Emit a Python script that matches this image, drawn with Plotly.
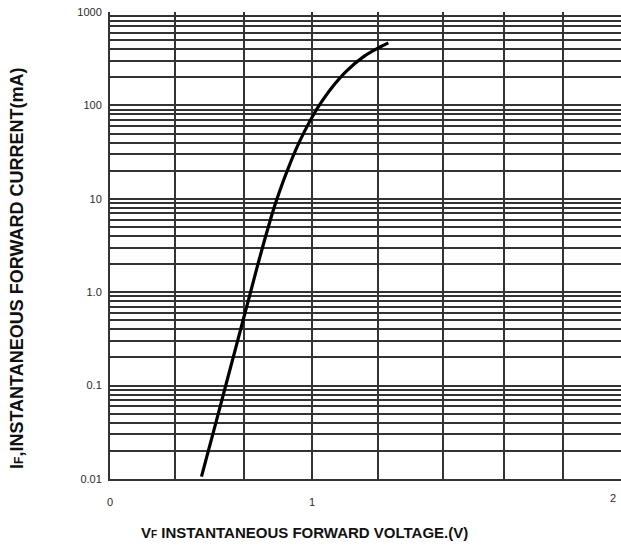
import plotly.graph_objects as go

# Forward characteristic curve
vf = [0.453, 0.475, 0.525, 0.576, 0.631, 0.686, 0.738, 0.792, 0.817, 0.858,
      0.891, 0.924, 0.965, 1.006, 1.048, 1.098, 1.172, 1.254, 1.337, 1.378]
i_f = [0.0106, 0.016, 0.0407, 0.106, 0.297, 0.834, 2.21, 5.75, 8.61, 15.5,
       23.7, 35.1, 53.7, 78.5, 109.6, 154.9, 234.4, 331, 421.7, 467.7]

# Axis grid / tick definitions
x_grid = [0, 0.322, 0.663, 1.0, 1.327, 1.649, 1.949, 2.243]
x_labels = ["0", "", "", "1", "", "", "", ""]
x_max = 2.53
x_label_2 = 2.49
y_decades = [0.01, 0.1, 1, 10, 100, 1000]
y_decade_labels = ["0.01", "0.1", "1.0", "10", "100", "1000"]

y_vals, y_text = [], []
for i, d in enumerate(y_decades):
    y_vals.append(d)
    y_text.append(y_decade_labels[i])
    if d < 1000:
        for m in range(2, 10):
            y_vals.append(d * m)
            y_text.append("")

GRID = "#333333"
TICK = "#2a2a2a"
FONT = "Liberation Sans, Arial, sans-serif"

fig = go.Figure()
fig.add_trace(go.Scatter(x=vf, y=i_f, mode="lines",
                         line=dict(color="black", width=3.2, shape="spline"),
                         hoverinfo="skip", showlegend=False))

fig.update_layout(
    template="none",
    width=621, height=545,
    margin=dict(l=110, r=0, t=12, b=66),
    paper_bgcolor="white", plot_bgcolor="white",
    font=dict(family=FONT, color=TICK, size=11),
    xaxis=dict(range=[0, x_max], tickmode="array", tickvals=x_grid, ticktext=x_labels,
               showgrid=True, gridcolor=GRID, gridwidth=1.6, zeroline=False,
               showline=True, linecolor=GRID, linewidth=2, ticks="",
               ticklabelstandoff=12, tickfont=dict(size=11, color=TICK, family=FONT)),
    yaxis=dict(type="log", range=[-2, 3], tickmode="array", tickvals=y_vals, ticktext=y_text,
               showgrid=True, gridcolor=GRID, gridwidth=1.6, zeroline=False,
               showline=True, linecolor=GRID, linewidth=2, ticks="",
               ticklabelstandoff=4, tickfont=dict(size=11, color=TICK, family=FONT)),
    annotations=[
        dict(x=x_label_2 / x_max, y=0, xref="paper", yref="paper", text="2", showarrow=False,
             xanchor="center", yanchor="top", yshift=-11,
             font=dict(size=11, color=TICK, family=FONT)),
        dict(x=0.38, y=-0.1135, xref="paper", yref="paper", showarrow=False,
             xanchor="center", yanchor="middle",
             text="V<span style='font-size:10px'>F</span> INSTANTANEOUS FORWARD VOLTAGE.(V)",
             font=dict(size=15, color="#111111", family=FONT, weight="bold")),
        dict(x=-0.182, y=0.452, xref="paper", yref="paper", textangle=-90, showarrow=False,
             xanchor="center", yanchor="middle",
             text="I<span style='font-size:12px'>F</span>,INSTANTANEOUS FORWARD CURRENT(mA)",
             font=dict(size=18, color="#111111", family=FONT, weight="bold")),
    ],
)

fig.write_html("out.html", config={"displayModeBar": False},
               post_script="document.body.style.margin='0';document.body.style.overflow='hidden';")
